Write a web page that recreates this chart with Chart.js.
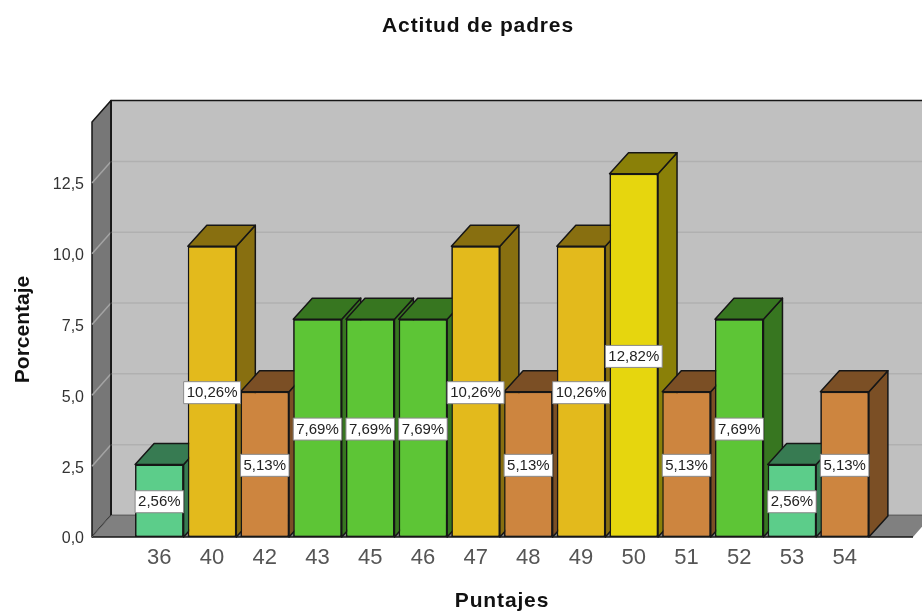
<!DOCTYPE html>
<html><head><meta charset="utf-8">
<style>html,body{margin:0;padding:0;background:#fff;overflow:hidden;width:922px;height:612px}canvas{display:block}</style>
<script src="https://cdn.jsdelivr.net/npm/chart.js@4"></script>
</head><body>
<canvas id="c" width="922" height="612"></canvas>
<script>
const categories = ['36','40','42','43','45','46','47','48','49','50','51','52','53','54'];
const percentages = [2.56,10.26,5.13,7.69,7.69,7.69,10.26,5.13,10.26,12.82,5.13,7.69,2.56,5.13];
const yTicks = [0,2.5,5,7.5,10,12.5];
const frontColors = ['#5ccd8a','#e3ba1c','#cd853f','#5dc536','#5dc536','#5dc536','#e3ba1c','#cd853f','#e3ba1c','#e6d60e','#cd853f','#5dc536','#5ccd8a','#cd853f'];
const chartTitle = 'Actitud de padres';
const xTitle = 'Puntajes';
const yTitle = 'Porcentaje';

const DX = 19, DY = 21.5, BAR_DY = 21, FONT = '"Liberation Sans", Arial, sans-serif';
const comma = (v, d) => v.toFixed(d).replace('.', ',');
function shade(hex, k) {
  const n = parseInt(hex.slice(1), 16);
  return `rgb(${((n>>16)&255)*k|0},${((n>>8)&255)*k|0},${(n&255)*k|0})`;
}
function poly(ctx, pts, fill, stroke, lw) {
  ctx.beginPath();
  pts.forEach((p,i)=> i ? ctx.lineTo(p[0],p[1]) : ctx.moveTo(p[0],p[1]));
  ctx.closePath();
  if (fill) { ctx.fillStyle = fill; ctx.fill(); }
  if (stroke) { ctx.strokeStyle = stroke; ctx.lineWidth = lw; ctx.lineJoin='round'; ctx.stroke(); }
}
function spaced(obj, name, ctx) {
  const orig = obj[name];
  obj[name] = function(...a){ ctx.letterSpacing = '0.85px'; orig.apply(this,a); ctx.letterSpacing = '0px'; };
}
const EDGE = '#161616';
const room = {
  id: 'room',
  beforeDraw(chart) {
    chart.titleBlock.left = 0;
    chart.titleBlock.right = 956;
    if (chart.$spaced) return;
    chart.$spaced = true;
    spaced(chart.titleBlock, 'draw', chart.ctx);
    spaced(chart.scales.x, 'drawTitle', chart.ctx);
  },
  beforeDatasetsDraw(chart) {
    const {ctx, chartArea:a, scales:{y}} = chart;
    const L = a.left - 41, R = a.right + 42, T = a.top, B = a.bottom;
    ctx.save();
    poly(ctx, [[L+DX,T-DY],[R+DX,T-DY],[R+DX,B-DY],[L+DX,B-DY]], '#c0c0c0', EDGE, 1.5);
    poly(ctx, [[L,T],[L+DX,T-DY],[L+DX,B-DY],[L,B]], '#777777', EDGE, 1.5);
    yTicks.forEach(v=>{
      if (!v) return;
      const p = y.getPixelForValue(v);
      ctx.lineWidth = 1.5;
      ctx.strokeStyle = '#b0b0b0';
      ctx.beginPath(); ctx.moveTo(L+DX,p-DY); ctx.lineTo(R+DX,p-DY); ctx.stroke();
      ctx.strokeStyle = '#a4a4a4';
      ctx.beginPath(); ctx.moveTo(L,p); ctx.lineTo(L+DX,p-DY); ctx.stroke();
    });
    poly(ctx, [[L,B],[R,B],[R+DX,B-DY],[L+DX,B-DY]], '#808080', null);
    ctx.strokeStyle = EDGE; ctx.lineWidth = 1.5;
    ctx.beginPath(); ctx.moveTo(L+DX,T-DY); ctx.lineTo(L+DX,B-DY); ctx.stroke();
    ctx.beginPath(); ctx.moveTo(L,B); ctx.lineTo(R,B); ctx.stroke();
    ctx.strokeStyle = '#666'; ctx.lineWidth = 1;
    ctx.beginPath(); ctx.moveTo(L,B); ctx.lineTo(L+DX,B-DY); ctx.lineTo(R+DX,B-DY); ctx.stroke();
    ctx.restore();
  },
  afterDatasetsDraw(chart) {
    const {ctx} = chart, bars = chart.getDatasetMeta(0).data;
    ctx.save();
    bars.forEach((el,i)=>{
      const {x,y,base,width} = el.getProps(['x','y','base','width'], true);
      const l = x-width/2, r = x+width/2;
      const dark = shade(frontColors[i], 0.6);
      poly(ctx, [[r,y],[r+DX,y-BAR_DY],[r+DX,base-BAR_DY],[r,base]], dark, EDGE, 1.5);
      poly(ctx, [[l,y],[l+DX,y-BAR_DY],[r+DX,y-BAR_DY],[r,y]], dark, EDGE, 1.5);
      el.draw(ctx);
    });
    ctx.font = '15px '+FONT;
    ctx.textAlign = 'center'; ctx.textBaseline = 'middle';
    bars.forEach((el,i)=>{
      const {x,y,base} = el.getProps(['x','y','base'], true);
      const txt = comma(percentages[i],2)+'%';
      const w = ctx.measureText(txt).width + 6, h = 22, cy = (y+base)/2 + 1;
      ctx.fillStyle = '#fff'; ctx.fillRect(x-w/2, cy-h/2, w, h);
      ctx.strokeStyle = '#8a8a8a'; ctx.lineWidth = 1; ctx.strokeRect(x-w/2, cy-h/2, w, h);
      ctx.fillStyle = '#222'; ctx.fillText(txt, x, cy+0.5);
    });
    ctx.restore();
  }
};
new Chart(document.getElementById('c'), {
  type: 'bar',
  data: { labels: categories, datasets: [{
    data: percentages, backgroundColor: frontColors,
    borderColor: EDGE, borderWidth: 1.5, borderSkipped: false,
    barPercentage: 0.92, categoryPercentage: 1
  }]},
  plugins: [room],
  options: {
    responsive: false, animation: false,
    layout: {padding:{right:51}},
    plugins: {
      legend: {display:false}, tooltip: {enabled:false},
      title: {display:true, text: chartTitle, color:'#111',
        font:{family:FONT,size:21,weight:'bold'}, padding:{top:14,bottom:82.8}}
    },
    scales: {
      x: { grid:{display:false,drawTicks:false}, border:{display:false},
        afterFit(s){ s.height = 75; },
        ticks:{color:'#555',font:{family:FONT,size:22},padding:8,autoSkip:false,maxRotation:0},
        title:{display:true,text:xTitle,color:'#111',font:{family:FONT,size:21,weight:'bold'},padding:{top:0,bottom:-2}}
      },
      y: { min:0, max:14.65, grid:{display:false,drawTicks:false}, border:{display:false},
        afterFit(s){ s.width = 133; },
        afterBuildTicks(s){ s.ticks = yTicks.map(v=>({value:v})); },
        ticks:{color:'#333',font:{family:FONT,size:16},padding:49,labelOffset:2,callback:v=>comma(v,1)},
        title:{display:true,text:yTitle,color:'#111',font:{family:FONT,size:21,weight:'bold'},padding:{top:11,bottom:0}}
      }
    }
  }
});
</script>
</body></html>
